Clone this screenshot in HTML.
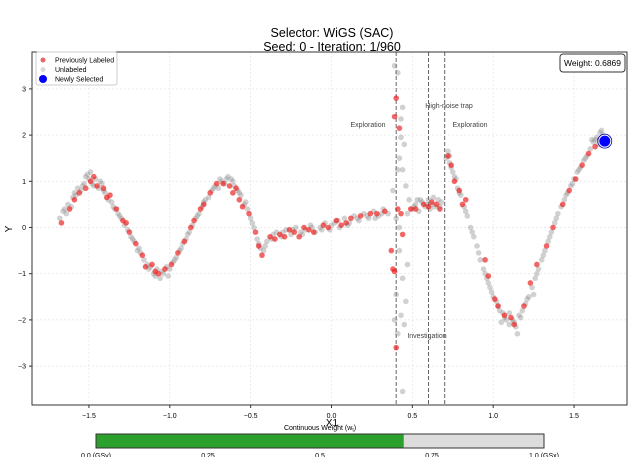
<!DOCTYPE html>
<html><head><meta charset="utf-8"><style>
body{margin:0;background:#fff;font-family:"Liberation Sans",sans-serif;}
svg{display:block}
</style></head><body>
<svg id="chart" width="640" height="457" viewBox="0 0 640 457">
<text x="332" y="37" text-anchor="middle" font-size="12.5" fill="#000">Selector: WiGS (SAC)</text>
<text x="332" y="51" text-anchor="middle" font-size="12.5" fill="#000">Seed: 0 - Iteration: 1/960</text>
<g id="grid"></g>
<g id="vlines"></g>
<g id="points"></g>
<rect x="32" y="52" width="595" height="353" fill="none" stroke="#333" stroke-width="1"/>
<g id="xticks"></g>
<g id="yticks"></g>
<text x="332" y="426" text-anchor="middle" font-size="10">X1</text>
<text x="12" y="229" text-anchor="middle" font-size="10" transform="rotate(-90 12 229)">Y</text>
<text x="368" y="127" text-anchor="middle" font-size="7" fill="#444">Exploration</text>
<text x="449" y="108" text-anchor="middle" font-size="7" fill="#444">High-noise trap</text>
<text x="470" y="127" text-anchor="middle" font-size="7" fill="#444">Exploration</text>
<text x="427" y="338" text-anchor="middle" font-size="7" fill="#444">Investigation</text>
<g>
<rect x="36" y="52" width="81" height="33" rx="2" fill="#fff" fill-opacity="0.85" stroke="#ccc"/>
<circle cx="43" cy="60" r="2.5" fill="rgba(230,0,0,0.6)"/>
<text x="55" y="62.5" font-size="7">Previously Labeled</text>
<circle cx="43" cy="69.5" r="2.5" fill="rgba(160,160,160,0.4)"/>
<text x="55" y="72" font-size="7">Unlabeled</text>
<circle cx="43" cy="79" r="4" fill="#0000ff"/>
<text x="55" y="81.5" font-size="7">Newly Selected</text>
</g>
<rect x="560" y="54" width="65" height="18" rx="3" fill="#fff" stroke="#333"/>
<text x="592.5" y="66" text-anchor="middle" font-size="8.5">Weight: 0.6869</text>
<text x="320" y="430" text-anchor="middle" font-size="7">Continuous Weight (w<tspan font-size="5" dy="1.5">t</tspan><tspan dy="-1.5">)</tspan></text>
<g id="cbar"></g>
</svg>
<script>
const xTicks=[-1.5,-1.0,-0.5,0.0,0.5,1.0,1.5];
const yTicks=[-3,-2,-1,0,1,2,3];
const regionBounds=[0.4,0.6,0.7];
const weightValue=0.6869;
const cbarTicks=[0,0.25,0.5,0.75,1.0];
const cbarLabels=["0.0 (GSy)","0.25","0.5","0.75","1.0 (GSx)"];
const unlabeledX=[-1.68,-1.66,-1.64,-1.63,-1.61,-1.6,-1.58,-1.57,-1.55,-1.53,-1.52,-1.5,-1.49,-1.47,-1.46,-1.44,-1.42,-1.4,-1.38,-1.36,-1.34,-1.32,-1.3,-1.28,-1.26,-1.24,-1.22,-1.2,-1.18,-1.16,-1.14,-1.12,-1.1,-1.08,-1.06,-1.04,-1.02,-1.0,-0.98,-0.96,-0.94,-0.92,-0.9,-0.88,-0.86,-0.84,-0.82,-0.8,-0.78,-0.76,-0.74,-0.72,-0.7,-0.68,-0.66,-0.64,-0.62,-0.6,-0.58,-0.56,-0.54,-0.52,-0.5,-0.48,-0.46,-0.44,-0.42,-0.4,-0.37,-0.34,-0.31,-0.28,-0.25,-0.22,-0.19,-0.16,-0.13,-0.1,-0.07,-0.04,-0.01,0.02,0.05,0.08,0.11,0.14,0.17,0.2,0.23,0.26,0.29,0.32,0.35,0.39,0.41,0.43,0.45,0.44,0.41,0.38,0.4,0.42,0.44,0.4,0.43,0.46,0.41,0.45,0.47,0.48,0.46,0.44,0.43,0.42,0.39,0.44,0.47,0.42,0.5,0.52,0.54,0.56,0.58,0.6,0.62,0.64,0.66,0.68,0.55,0.63,0.71,0.72,0.73,0.74,0.75,0.77,0.78,0.8,0.82,0.84,0.86,0.88,0.9,0.92,0.94,0.96,0.98,1.0,1.02,1.04,1.06,1.08,1.1,1.12,1.14,1.16,1.18,1.2,1.22,1.24,1.26,1.28,1.3,1.32,1.34,1.36,1.38,1.4,1.42,1.44,1.46,1.48,1.5,1.52,1.54,1.56,1.58,1.6,1.62,1.64,1.66,1.68,1.61,1.65,1.1,1.05,1.15,0.97,1.25,1.35,
-1.65,-1.59,-1.54,-1.51,-1.48,-1.43,-1.41,-1.35,-1.31,-1.23,-1.19,-1.13,-1.09,-1.05,-1.01,-0.97,-0.93,-0.89,-0.83,-0.79,-0.73,-0.69,-0.65,-0.61,-0.57,-0.53,-0.49,-0.45,-0.41,-0.36,-0.3,-0.24,-0.18,-0.12,-0.06,0.0,0.04,0.1,0.16,0.22,0.27,0.31,0.51,0.53,0.59,0.61,0.67,0.73,0.76,0.79,0.83,0.87,0.91,0.95,0.99,1.03,1.07,1.13,1.17,1.21,1.27,1.31,1.39,1.45,1.49,1.53,1.57,1.63,1.67];
const unlabeledY=[0.2,0.35,0.3,0.5,0.45,0.65,0.7,0.85,0.8,0.95,1.1,1.05,1.2,0.9,1.05,0.85,0.95,0.75,0.6,0.55,0.4,0.3,0.2,0.05,-0.05,-0.2,-0.3,-0.5,-0.55,-0.7,-0.8,-0.85,-1.0,-0.9,-1.1,-1.0,-0.85,-0.9,-0.75,-0.65,-0.5,-0.35,-0.25,-0.1,0.05,0.2,0.3,0.45,0.6,0.65,0.8,0.9,0.85,1.0,0.95,1.1,1.05,0.9,0.8,0.7,0.5,0.4,0.2,0.0,-0.25,-0.45,-0.5,-0.3,-0.25,-0.1,-0.2,-0.05,-0.15,0.0,-0.1,-0.05,0.05,-0.1,0.0,0.1,-0.05,0.1,0.0,0.2,0.1,0.25,0.15,0.3,0.2,0.35,0.25,0.4,0.3,3.5,3.35,1.95,1.8,1.25,1.25,0.8,0.2,-0.5,-1.1,-1.45,-1.9,-1.6,-2.3,-2.1,-0.8,0.6,0.9,2.6,2.35,1.5,-2.0,-3.55,0.3,0.0,0.4,0.5,0.35,0.55,0.45,0.6,0.5,0.45,0.6,0.55,0.6,0.65,1.5,1.65,1.4,1.3,1.2,1.05,0.85,0.7,0.45,0.25,0.0,-0.2,-0.4,-0.7,-0.9,-1.1,-1.3,-1.5,-1.6,-1.8,-1.85,-2.0,-2.1,-2.0,-2.15,-1.9,-1.8,-1.65,-1.5,-1.3,-1.1,-0.9,-0.7,-0.5,-0.3,-0.1,0.1,0.3,0.45,0.6,0.75,0.9,1.05,1.2,1.3,1.45,1.55,1.7,1.85,1.95,2.05,2.0,1.9,1.8,-1.85,-2.05,-2.3,-1.2,-1.45,-0.2,
0.4,0.75,0.9,1.15,0.95,1.0,0.8,0.45,0.25,-0.25,-0.45,-0.9,-1.05,-0.95,-1.05,-0.7,-0.45,-0.15,0.25,0.55,0.85,1.05,1.05,1.0,0.75,0.55,0.1,-0.35,-0.4,-0.15,-0.1,-0.05,-0.15,0.0,-0.05,0.05,0.15,0.05,0.2,0.25,0.2,0.3,0.45,0.6,0.5,0.4,0.45,1.55,1.1,0.75,0.35,-0.1,-0.55,-1.0,-1.4,-1.7,-1.95,-2.05,-1.95,-1.55,-1.0,-0.6,0.2,0.7,0.95,1.25,1.5,1.9,2.1];
const labeledX=[-1.67,-1.62,-1.59,-1.56,-1.52,-1.49,-1.47,-1.45,-1.41,-1.39,-1.37,-1.33,-1.29,-1.27,-1.25,-1.21,-1.17,-1.15,-1.11,-1.09,-1.07,-1.03,-0.99,-0.95,-0.91,-0.87,-0.85,-0.81,-0.79,-0.75,-0.71,-0.67,-0.63,-0.61,-0.59,-0.57,-0.55,-0.51,-0.47,-0.45,-0.43,-0.38,-0.35,-0.32,-0.29,-0.26,-0.23,-0.2,-0.17,-0.14,-0.11,-0.05,-0.02,0.03,0.06,0.09,0.12,0.18,0.24,0.28,0.33,0.39,0.4,0.42,0.4,0.38,0.37,0.39,0.43,0.41,0.44,0.49,0.52,0.57,0.6,0.62,0.65,0.67,0.72,0.74,0.76,0.79,0.81,0.83,0.95,0.97,1.01,1.03,1.07,1.11,1.13,1.19,1.23,1.27,1.33,1.37,1.43,1.47,1.51,1.55,1.59,1.63,1.66,1.67];
const labeledY=[0.1,0.4,0.6,0.75,0.85,1.0,1.1,0.9,0.85,0.65,0.7,0.4,0.15,0.1,-0.1,-0.35,-0.6,-0.85,-0.8,-0.95,-1.0,-0.9,-0.8,-0.55,-0.3,0.0,0.15,0.4,0.5,0.75,0.95,0.95,0.9,0.75,0.85,0.6,0.45,0.3,-0.1,-0.4,-0.6,-0.2,-0.25,-0.15,-0.2,-0.05,-0.1,-0.2,0.0,-0.05,-0.1,0.05,0.0,0.15,0.05,0.1,0.2,0.25,0.3,0.3,0.35,2.4,2.8,2.15,-2.6,-0.9,-0.5,-0.95,0.3,0.4,-0.15,0.4,0.4,0.5,0.45,0.55,0.5,0.4,1.55,1.35,1.0,0.8,0.5,0.6,-0.7,-1.05,-1.55,-1.7,-1.9,-1.95,-2.1,-1.7,-1.2,-0.8,-0.4,0.0,0.5,0.8,1.05,1.35,1.6,1.75,1.9,1.85];
const selectedX=[1.69];
const selectedY=[1.87];

const NS="http://www.w3.org/2000/svg";
const X0=32,X1=627,Y0=52,Y1=405;
const sx=v=>331.5+v*161.7;
const sy=v=>227.5-v*46.2;
function mk(tag,attrs,parent){const e=document.createElementNS(NS,tag);for(const k in attrs)e.setAttribute(k,attrs[k]);parent.appendChild(e);return e;}
const grid=document.getElementById('grid'),xt=document.getElementById('xticks'),yt=document.getElementById('yticks');
xTicks.forEach(t=>{const x=sx(t);
 const g=mk('line',{x1:x,x2:x,y1:Y0,y2:Y1,stroke:'#e4e4e4','stroke-dasharray':'2,2','stroke-width':0.7},grid);
 
 const tk=mk('line',{x1:x,x2:x,y1:Y1,y2:Y1+3,stroke:'#333'},xt);
 
 const lb=mk('text',{x:x,y:Y1+13,'text-anchor':'middle','font-size':7},xt);lb.textContent=(t<0?'\u2212':'')+Math.abs(t).toFixed(1);
 });
yTicks.forEach(t=>{const y=sy(t);
 const g=mk('line',{x1:X0,x2:X1,y1:y,y2:y,stroke:'#e4e4e4','stroke-dasharray':'2,2','stroke-width':0.7},grid);
 
 const tk=mk('line',{x1:X0-3,x2:X0,y1:y,y2:y,stroke:'#333'},yt);
 
 const lb=mk('text',{x:X0-6,y:y+2.5,'text-anchor':'end','font-size':7},yt);lb.textContent=(t<0?'\u2212':'')+Math.abs(t);
 });
const vl=document.getElementById('vlines');
regionBounds.forEach(b=>{const l=mk('line',{x1:sx(b),x2:sx(b),y1:Y0,y2:Y1,stroke:'#666','stroke-dasharray':'4,2','stroke-width':1},vl);
 });
const pts=document.getElementById('points');
unlabeledX.forEach((x,i)=>{const c=mk('circle',{cx:sx(x),cy:sy(unlabeledY[i]),r:2.8,fill:'rgba(140,140,140,0.4)'},pts);
 });
labeledX.forEach((x,i)=>{const c=mk('circle',{cx:sx(x),cy:sy(labeledY[i]),r:2.8,fill:'rgba(235,20,20,0.65)'},pts);
 });
selectedX.forEach((x,i)=>{const c=mk('circle',{cx:sx(x),cy:sy(selectedY[i]),r:6,fill:'#0000ff',stroke:'#fff','stroke-width':1},pts);
 
 const c2=mk('circle',{cx:sx(x),cy:sy(selectedY[i]),r:7,fill:'none',stroke:'#0000aa','stroke-width':0.8},pts);
 });
const cb=document.getElementById('cbar');const CB0=96,CB1=544,cw=v=>CB0+v*(CB1-CB0);
let r=mk('rect',{x:CB0,y:434,width:CB1-CB0,height:14,fill:'#dcdcdc'},cb);
r=mk('rect',{x:CB0,y:434,width:cw(weightValue)-CB0,height:14,fill:'#2ca02c'},cb);
r=mk('rect',{x:CB0,y:434,width:CB1-CB0,height:14,fill:'none',stroke:'#333'},cb);
cbarTicks.forEach((t,i)=>{const lb=mk('text',{x:cw(t),y:458,'text-anchor':'middle','font-size':7},cb);lb.textContent=cbarLabels[i];
 });
</script>
</body></html>
